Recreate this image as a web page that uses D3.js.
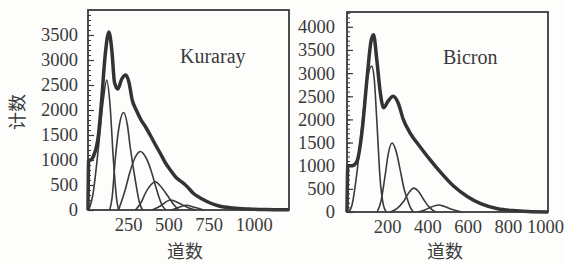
<!DOCTYPE html>
<html>
<head>
<meta charset="utf-8">
<script src="https://cdn.jsdelivr.net/npm/d3@7"></script>
<style>
body{margin:0;background:#fdfdfc;}
svg{display:block;}
</style>
</head>
<body>
<div id="chart"></div>
<script>

// -----------------------------
// DATA  [channel, counts]
// -----------------------------

const kurarayTotal = [[0,0],[4,1000],[15,1000],[33,1070],[65,1500],[85,2200],[106,3070],[130,3560],[148,3200],[165,2550],[185,2420],[210,2620],[235,2700],[255,2550],[275,2200],[300,2000],[330,1800],[360,1650],[390,1480],[420,1300],[450,1130],[480,950],[512,800],[545,660],[575,580],[606,500],[660,320],[710,220],[760,140],[815,80],[900,40],[1000,20],[1100,10],[1250,5]]
const kurarayFit1 = [[5,0],[30,300],[65,1250],[95,2200],[117,2600],[137,2100],[158,1000],[178,220],[190,0]]
const kurarayFit2 = [[135,0],[150,250],[169,1000],[195,1700],[221,1950],[245,1700],[262,1270],[294,600],[320,150],[340,0]]
const kurarayFit3 = [[190,0],[231,400],[260,750],[290,1030],[325,1170],[360,1050],[398,730],[420,480],[440,270],[460,100],[485,0]]
const kurarayFit4 = [[295,0],[330,150],[356,330],[390,500],[419,565],[450,480],[492,300],[530,120],[565,0]]
const kurarayFit5 = [[400,0],[450,80],[512,200],[570,130],[620,50],[670,0]]
const kurarayFit6 = [[520,0],[570,60],[610,95],[660,55],[720,0]]

const bicronTotal = [[0,0],[4,1000],[25,1000],[50,1100],[75,1750],[100,2900],[120,3700],[132,3830],[148,3300],[165,2600],[182,2250],[205,2400],[230,2500],[255,2350],[280,2000],[315,1700],[365,1400],[415,1120],[465,860],[530,560],[600,330],[665,180],[750,70],[825,30],[900,10],[1000,0]]
const bicronFit1 = [[10,0],[25,150],[48,800],[75,1900],[100,2850],[123,3150],[135,2900],[148,2000],[165,700],[180,170],[195,0]]
const bicronFit2 = [[150,0],[170,250],[190,800],[205,1250],[224,1490],[245,1300],[265,900],[285,480],[300,280],[315,100],[330,0]]
const bicronFit3 = [[215,0],[250,80],[280,220],[305,400],[332,515],[355,450],[380,280],[410,100],[440,0]]
const bicronFit4 = [[355,0],[390,50],[420,110],[455,150],[485,120],[520,60],[570,0]]

const kurarayXTicks = [250,500,750,1000]
const kurarayYTicks = [0,500,1000,1500,2000,2500,3000,3500]
const bicronXTicks = [200,400,600,800,1000]
const bicronYTicks = [0,500,1000,1500,2000,2500,3000,3500,4000]

const ink = "#3a3a3a"
const serif = "'Liberation Serif','Times New Roman',serif"
const cjk = "'Noto Sans CJK SC',sans-serif"

const svg = d3.select("#chart")
.append("svg")
.attr("width",565)
.attr("height",264)


// -----------------------------
// PANEL
// -----------------------------

function drawPanel(opt){

const x = d3.scaleLinear()
.domain([0,opt.xMax])
.range([opt.left,opt.right])

const y = d3.scaleLinear()
.domain([0,opt.yMax])
.range([opt.bottom,opt.top])

const g = svg.append("g")

// inner y ticks, minor every 100
g.append("g")
.attr("transform",`translate(${opt.left},0)`)
.call(d3.axisRight(y).tickValues(d3.range(0,opt.yMax,100)).tickSize(3).tickFormat(""))
.call(a=>a.select(".domain").remove())
.selectAll("line")
.attr("stroke",ink)
.attr("stroke-width",1)

g.append("g")
.attr("transform",`translate(${opt.left},0)`)
.call(d3.axisRight(y).tickValues(opt.yTicks).tickSize(6).tickFormat(""))
.call(a=>a.select(".domain").remove())
.selectAll("line")
.attr("stroke",ink)
.attr("stroke-width",1.2)

// y labels
g.append("g")
.attr("transform",`translate(${opt.left},0)`)
.call(d3.axisLeft(y).tickValues(opt.yTicks).tickSize(0).tickPadding(opt.yPad).tickFormat(d3.format("d")))
.call(a=>a.select(".domain").remove())
.selectAll("text")
.attr("fill",ink)
.style("font-family",serif)
.style("font-size","18.5px")

// x labels (last one nudged like the print)
const last = opt.xTicks[opt.xTicks.length-1]
g.append("g")
.attr("transform",`translate(0,${opt.bottom})`)
.call(d3.axisBottom(x).tickValues(opt.xTicks).tickSize(0).tickPadding(8).tickFormat(d3.format("d")))
.call(a=>a.select(".domain").remove())
.selectAll("text")
.attr("dx",d=>d===last?opt.lastShift:0)
.attr("fill",ink)
.style("font-family",serif)
.style("font-size","18.5px")

// fitted components
const line = d3.line()
.x(d=>x(d[0]))
.y(d=>y(d[1]))
.curve(d3.curveMonotoneX)

opt.fits.forEach(f=>{
g.append("path")
.datum(f)
.attr("fill","none")
.attr("stroke",ink)
.attr("stroke-width",1.6)
.attr("d",line)
})

// measured spectrum
g.append("path")
.datum(opt.total)
.attr("fill","none")
.attr("stroke","#333")
.attr("stroke-width",3.5)
.attr("stroke-linejoin","round")
.attr("d",line)

// frame
g.append("rect")
.attr("x",opt.left)
.attr("y",opt.top)
.attr("width",opt.right-opt.left)
.attr("height",opt.bottom-opt.top)
.attr("fill","none")
.attr("stroke",ink)
.attr("stroke-width",1.8)

// name
g.append("text")
.attr("x",opt.nameX)
.attr("y",opt.nameY)
.attr("fill",ink)
.style("font-family",serif)
.style("font-size","20px")
.text(opt.name)

// x title
g.append("text")
.attr("x",opt.titleX)
.attr("y",258)
.attr("text-anchor","middle")
.attr("fill",ink)
.style("font-family",cjk)
.style("font-size","18px")
.text("道数")

}

drawPanel({
left:88,right:289,top:10,bottom:210,
xMax:1250,yMax:4000,
xTicks:kurarayXTicks,yTicks:kurarayYTicks,yPad:10,lastShift:5,
total:kurarayTotal,
fits:[kurarayFit1,kurarayFit2,kurarayFit3,kurarayFit4,kurarayFit5,kurarayFit6],
name:"Kuraray",nameX:180,nameY:63,titleX:185
})

drawPanel({
left:347,right:548,top:12,bottom:212,
xMax:1000,yMax:4320,
xTicks:bicronXTicks,yTicks:bicronYTicks,yPad:12,lastShift:-3,
total:bicronTotal,
fits:[bicronFit1,bicronFit2,bicronFit3,bicronFit4],
name:"Bicron",nameX:443,nameY:64,titleX:445
})

// y title
svg.append("text")
.attr("transform","translate(24,112) rotate(-90)")
.attr("text-anchor","middle")
.attr("fill",ink)
.style("font-family",cjk)
.style("font-size","18px")
.text("计数")

</script>
</body>
</html>
